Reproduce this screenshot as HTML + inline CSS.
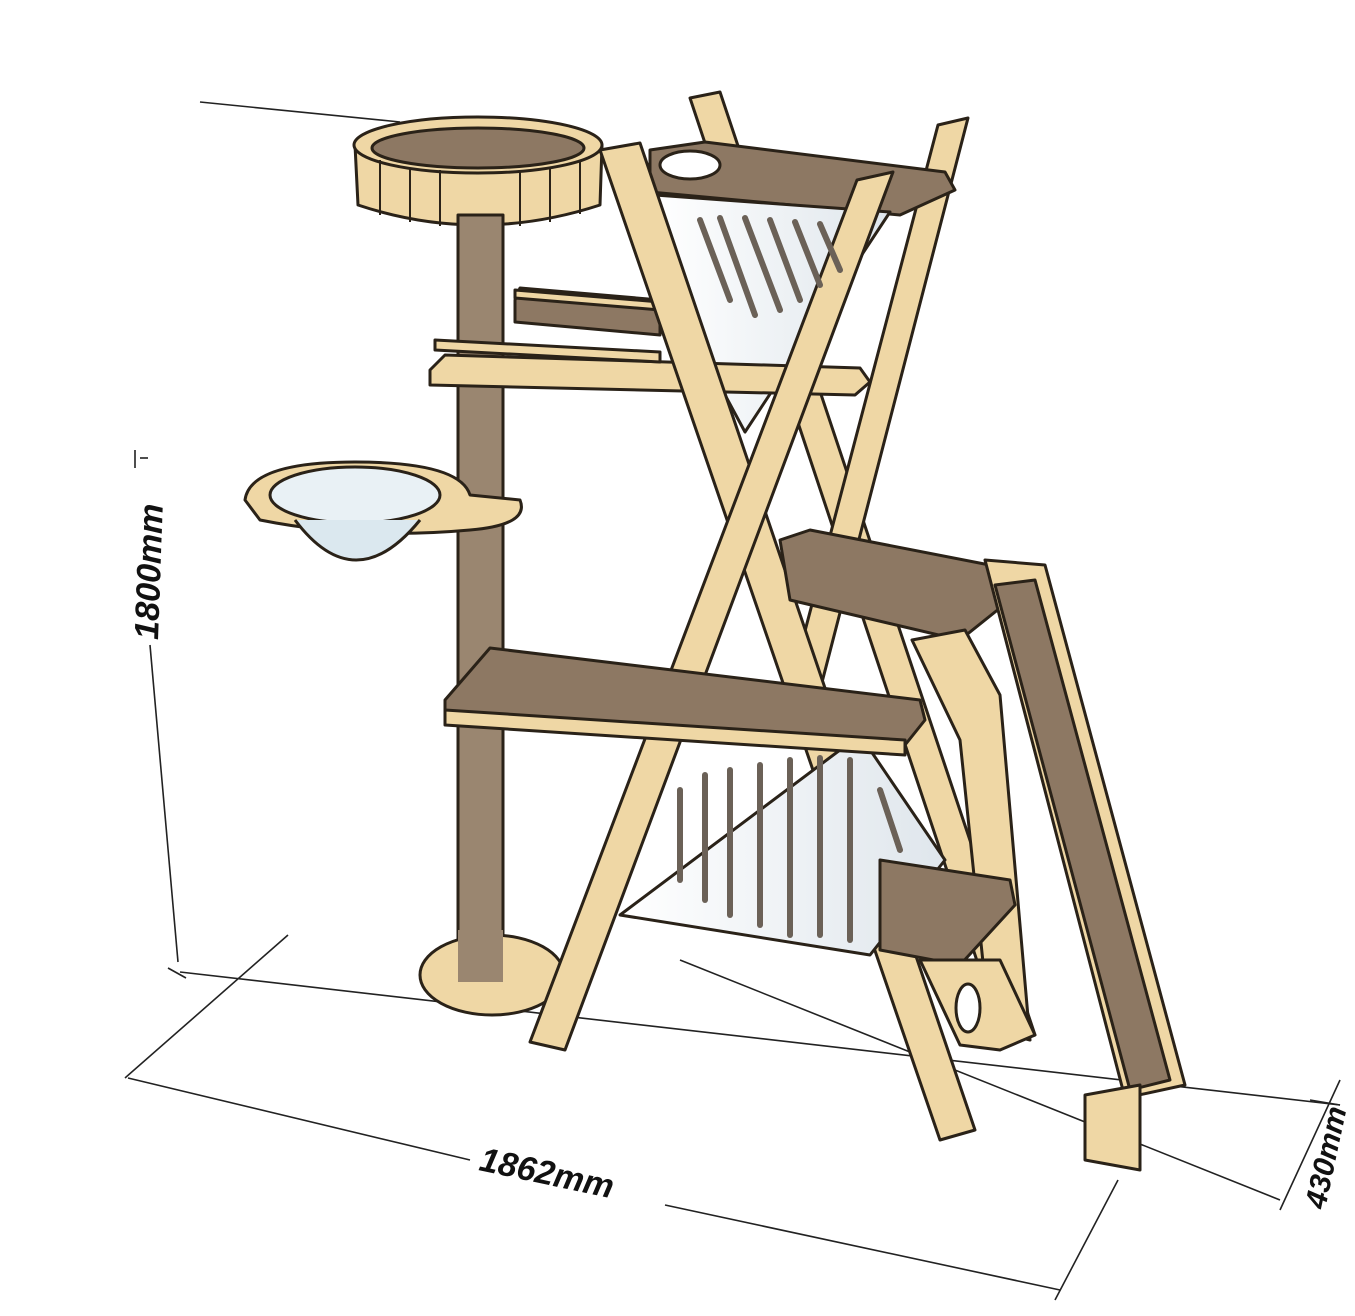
<!DOCTYPE html>
<html><head><meta charset="utf-8"><style>
html,body{margin:0;padding:0;background:#fff}
svg{display:block}
text{font-family:"Liberation Sans",sans-serif;font-weight:bold;font-style:italic;fill:#111}
</style></head><body>
<svg width="1355" height="1316" viewBox="0 0 1355 1316" xmlns="http://www.w3.org/2000/svg">
<defs>
<linearGradient id="g" x1="0" x2="1"><stop offset="0" stop-color="#fff"/><stop offset="1" stop-color="#dfe6ec"/></linearGradient>
</defs>
<g stroke="#222" stroke-width="1.6" fill="none">
<!-- dimension lines -->
<line x1="200" y1="102" x2="400" y2="122"/>
<line x1="135" y1="450" x2="135" y2="468"/>
<line x1="150" y1="645" x2="178" y2="962"/>
<line x1="140" y1="458" x2="148" y2="458"/>
<line x1="168" y1="968" x2="186" y2="978"/>
<line x1="180" y1="972" x2="1340" y2="1105"/>
<line x1="128" y1="1078" x2="470" y2="1160"/>
<line x1="665" y1="1205" x2="1060" y2="1290"/>
<line x1="125" y1="1078" x2="288" y2="935"/>
<line x1="1055" y1="1300" x2="1118" y2="1180"/>
<line x1="680" y1="960" x2="1280" y2="1200"/>
<line x1="1280" y1="1210" x2="1340" y2="1080"/>
<line x1="1310" y1="1100" x2="1340" y2="1105"/>
</g>
<text x="0" y="0" font-size="34" transform="translate(158,640) rotate(-88)">1800mm</text>
<text x="0" y="0" font-size="34" transform="translate(478,1170) rotate(12)">1862mm</text>
<text x="0" y="0" font-size="30" transform="translate(1325,1210) rotate(-78)">430mm</text>

<g stroke="#2a2218" stroke-width="3" stroke-linejoin="round">
<!-- back beams -->
<polygon points="690,98 720,92 1035,1035 1005,1045" fill="#efd7a5"/>
<polygon points="938,125 968,118 820,690 790,688" fill="#efd7a5"/>
<!-- top platform -->
<polygon points="650,150 705,142 945,172 955,190 900,215 650,192" fill="#8d7863"/>
<ellipse cx="690" cy="165" rx="30" ry="14" fill="#fff"/>
<!-- top panel -->
<polygon points="655,195 890,212 745,432 690,330" fill="url(#g)"/>
<!-- basket -->
<path d="M355,145 L358,205 Q478,245 600,205 L602,145 Z" fill="#efd7a5"/>
<ellipse cx="478" cy="145" rx="124" ry="28" fill="#efd7a5"/>
<ellipse cx="478" cy="148" rx="106" ry="20" fill="#8d7863"/>
<!-- post -->
<rect x="458" y="215" width="45" height="765" fill="#9a8670"/>
<!-- base -->
<ellipse cx="492" cy="975" rx="72" ry="40" fill="#efd7a5"/>
<rect x="458" y="930" width="45" height="52" fill="#9a8670" stroke="none"/>
<!-- bowl platform -->
<path d="M245,500 Q250,462 355,462 Q460,462 470,495 L520,500 Q530,525 470,530 Q360,540 260,520 Z" fill="#efd7a5"/>
<ellipse cx="355" cy="495" rx="85" ry="28" fill="#e9f1f5"/>
<path d="M295,520 Q355,600 420,520" fill="#dbe8ef"/>
<!-- shelves with rails -->
<polygon points="430,370 445,355 860,368 870,382 855,395 430,385" fill="#efd7a5"/>
<polygon points="515,300 520,288 660,300 660,335 515,322" fill="#8d7863"/>
<polygon points="435,340 660,352 660,362 435,350" fill="#efd7a5"/>
<polygon points="515,290 660,302 660,310 515,298" fill="#efd7a5"/>
<!-- front X beams -->
<polygon points="600,150 640,143 975,1130 940,1140" fill="#efd7a5"/>
<polygon points="857,180 893,172 565,1050 530,1042" fill="#efd7a5"/>
<!-- middle right platform -->
<polygon points="780,540 810,530 1005,568 1010,600 960,640 790,600" fill="#8d7863"/>
<polygon points="912,640 965,630 1000,695 1030,1040 990,1030 960,740" fill="#efd7a5"/>
<!-- ramp -->
<polygon points="985,560 1045,565 1185,1085 1125,1098" fill="#efd7a5"/>
<polygon points="995,585 1035,580 1170,1080 1130,1090" fill="#8d7863"/>
<polygon points="1085,1095 1140,1085 1140,1170 1085,1160" fill="#efd7a5"/>
<!-- lower panel -->
<polygon points="620,915 860,735 945,860 870,955" fill="url(#g)"/>
<!-- lower platform -->
<polygon points="445,700 490,648 920,700 925,720 905,745 445,718" fill="#8d7863"/>
<polygon points="445,710 905,740 905,755 445,725" fill="#efd7a5"/>
<!-- lower right step -->
<polygon points="880,860 1010,880 1015,905 960,965 880,950" fill="#8d7863"/>
<polygon points="920,960 1000,960 1035,1035 1000,1050 960,1045" fill="#efd7a5"/>
<ellipse cx="968" cy="1008" rx="12" ry="24" fill="#fff"/>
</g>
<!-- slats -->
<g stroke="#6b6157" stroke-width="6" stroke-linecap="round">
<line x1="700" y1="220" x2="730" y2="300"/><line x1="720" y1="218" x2="755" y2="315"/>
<line x1="745" y1="218" x2="780" y2="310"/><line x1="770" y1="220" x2="800" y2="300"/>
<line x1="795" y1="222" x2="820" y2="285"/><line x1="820" y1="224" x2="840" y2="270"/>
<line x1="680" y1="790" x2="680" y2="880"/><line x1="705" y1="775" x2="705" y2="900"/>
<line x1="730" y1="770" x2="730" y2="915"/><line x1="760" y1="765" x2="760" y2="925"/>
<line x1="790" y1="760" x2="790" y2="935"/><line x1="820" y1="758" x2="820" y2="935"/>
<line x1="850" y1="760" x2="850" y2="940"/><line x1="880" y1="790" x2="900" y2="850"/>
</g>
<g stroke="#2a2218" stroke-width="2">
<line x1="380" y1="160" x2="380" y2="215"/><line x1="410" y1="168" x2="410" y2="222"/>
<line x1="440" y1="170" x2="440" y2="226"/><line x1="520" y1="170" x2="520" y2="226"/>
<line x1="550" y1="168" x2="550" y2="222"/><line x1="580" y1="160" x2="580" y2="214"/>
</g>
</svg>
</body></html>
